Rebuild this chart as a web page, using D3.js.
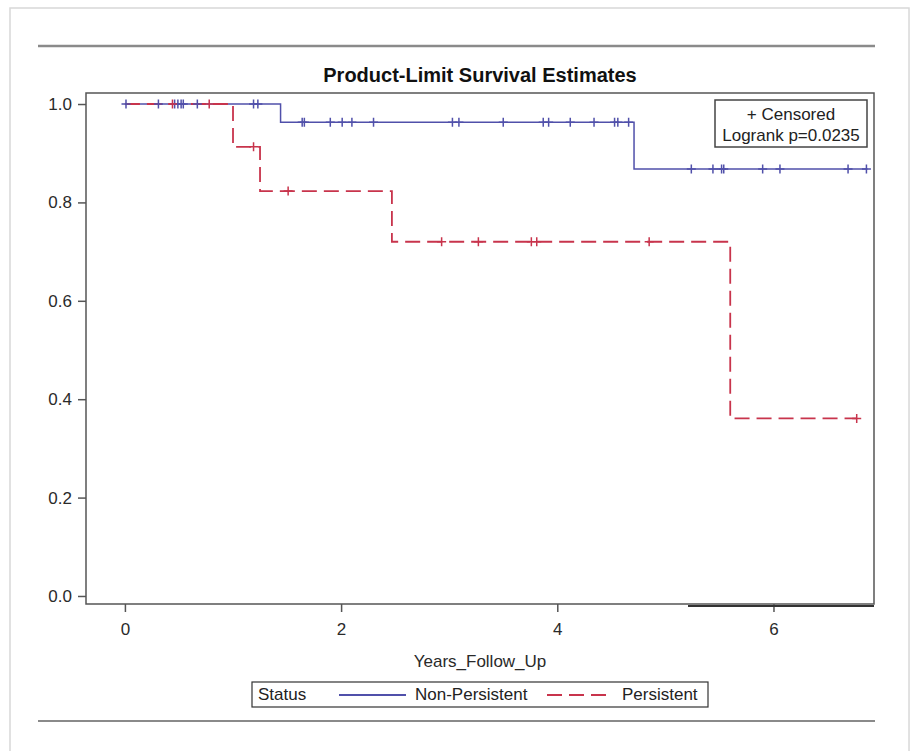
<!DOCTYPE html>
<html>
<head>
<meta charset="utf-8">
<script src="https://cdn.jsdelivr.net/npm/d3@7"></script>
<style>
  body { margin: 0; background: #fff; }
  svg { font-family: "Liberation Sans", Arial, sans-serif; }
</style>
</head>
<body>
<script>
// Kaplan-Meier step values
var groups = ["Non-Persistent", "Persistent"];

var npTimes = [0, 1.44, 4.71];
var npSurv = [1.0, 0.963, 0.868];
var npEnd = 6.87;
var npCensored = [0.01, 0.31, 0.46, 0.49, 0.52, 0.54, 0.67, 1.19, 1.23,
    1.64, 1.66, 1.90, 2.01, 2.10, 2.30, 3.03, 3.09, 3.50, 3.87, 3.92, 4.12, 4.34, 4.53, 4.56, 4.66,
    5.24, 5.44, 5.52, 5.54, 5.90, 6.06, 6.69, 6.86];

var pTimes = [0, 1.00, 1.25, 2.47, 5.60];
var pSurv = [1.0, 0.913, 0.823, 0.72, 0.361];
var pEnd = 6.77;
var pCensored = [0.44, 0.78, 1.19, 1.51, 2.93, 3.27, 3.76, 3.81, 4.85, 6.77];

var xTicks = [0, 2, 4, 6];
var yTicks = [0, 0.2, 0.4, 0.6, 0.8, 1.0];

var blue = "#5050aa", red = "#c8344c";

var width = 913, height = 751;

var svg = d3.select("body").append("svg")
    .attr("width", width)
    .attr("height", height);

// page decoration
svg.append("rect")
    .attr("x", 10).attr("y", 8)
    .attr("width", 899).attr("height", 770)
    .attr("fill", "none").attr("stroke", "#d8d8d8").attr("stroke-width", 1.5);
svg.append("line")
    .attr("x1", 38).attr("x2", 875).attr("y1", 46).attr("y2", 46)
    .attr("stroke", "#8a8a8a").attr("stroke-width", 2.5);
svg.append("line")
    .attr("x1", 38).attr("x2", 875).attr("y1", 721).attr("y2", 721)
    .attr("stroke", "#8a8a8a").attr("stroke-width", 2);

var x = d3.scaleLinear().domain([-0.36, 6.93]).range([86, 874]);
var y = d3.scaleLinear().domain([-0.0163, 1.0224]).range([604, 93]);

svg.append("text")
    .attr("x", 480).attr("y", 82)
    .attr("text-anchor", "middle")
    .attr("font-weight", "bold")
    .attr("font-size", "20px")
    .attr("fill", "#111")
    .text("Product-Limit Survival Estimates");

// axes
var xAxis = svg.append("g")
    .attr("transform", "translate(0,604)")
    .call(d3.axisBottom(x).tickValues(xTicks).tickSize(8).tickSizeOuter(0).tickPadding(11).tickFormat(d3.format("d")));
var yAxis = svg.append("g")
    .attr("transform", "translate(86,0)")
    .call(d3.axisLeft(y).tickValues(yTicks).tickSize(8).tickSizeOuter(0).tickPadding(6).tickFormat(d3.format(".1f")));

[xAxis, yAxis].forEach(function(a){
    a.select(".domain").remove();
    a.selectAll("line").attr("stroke", "#555").attr("stroke-width", 1.5);
    a.selectAll("text").attr("font-size", "17px").attr("fill", "#2a2a2a")
        .attr("font-family", "Liberation Sans, Arial, sans-serif");
});

// frame
svg.append("rect")
    .attr("x", x.range()[0]).attr("y", y.range()[1])
    .attr("width", x.range()[1] - x.range()[0])
    .attr("height", y.range()[0] - y.range()[1])
    .attr("fill", "none").attr("stroke", "#555").attr("stroke-width", 1.5);
svg.append("line")
    .attr("x1", 688).attr("x2", x.range()[1]).attr("y1", 606).attr("y2", 606)
    .attr("stroke", "#333").attr("stroke-width", 2);

svg.append("text")
    .attr("x", 480).attr("y", 667)
    .attr("text-anchor", "middle")
    .attr("font-size", "17px").attr("fill", "#2a2a2a")
    .text("Years_Follow_Up");

function stepPoints(times, surv, end) {
    var pts = [];
    for (var i = 0; i < times.length; i++) {
        pts.push([times[i], surv[i]]);
    }
    pts.push([end, surv[surv.length - 1]]);
    return pts;
}
function survAt(times, surv, t) {
    var s = surv[0];
    for (var i = 0; i < times.length; i++) {
        if (times[i] <= t) s = surv[i];
    }
    return s;
}

var line = d3.line()
    .x(function(d){ return x(d[0]); })
    .y(function(d){ return y(d[1]); })
    .curve(d3.curveStepAfter);

var plot = svg.append("g");

plot.append("path")
    .datum(stepPoints(npTimes, npSurv, npEnd))
    .attr("d", line)
    .attr("fill", "none").attr("stroke", blue).attr("stroke-width", 1.5);

plot.append("path")
    .datum(stepPoints(pTimes, pSurv, pEnd))
    .attr("d", line)
    .attr("fill", "none").attr("stroke", red).attr("stroke-width", 1.8)
    .attr("stroke-dasharray", "15,7");

function plus(t, s) {
    var cx = x(t), cy = y(s);
    return "M" + (cx - 4.5) + "," + cy + "h9M" + cx + "," + (cy - 4.5) + "v9";
}

plot.selectAll(".cnp").data(npCensored).enter().append("path")
    .attr("class", "cnp")
    .attr("d", function(d){ return plus(d, survAt(npTimes, npSurv, d)); })
    .attr("stroke", blue).attr("stroke-width", 1.5).attr("fill", "none");

plot.selectAll(".cp").data(pCensored).enter().append("path")
    .attr("class", "cp")
    .attr("d", function(d){ return plus(d, survAt(pTimes, pSurv, d)); })
    .attr("stroke", red).attr("stroke-width", 1.5).attr("fill", "none");

// inset legend
var inset = svg.append("g");
inset.append("rect")
    .attr("x", 715).attr("y", 100).attr("width", 152).attr("height", 47)
    .attr("fill", "#fff").attr("stroke", "#444").attr("stroke-width", 1.5);
inset.append("text")
    .attr("x", 791).attr("y", 120).attr("text-anchor", "middle")
    .attr("font-size", "17px").attr("fill", "#222")
    .text("+ Censored");
inset.append("text")
    .attr("x", 791).attr("y", 141).attr("text-anchor", "middle")
    .attr("font-size", "17px").attr("fill", "#222")
    .text("Logrank p=0.0235");

// bottom legend
var leg = svg.append("g");
leg.append("rect")
    .attr("x", 252).attr("y", 682).attr("width", 456).attr("height", 25)
    .attr("fill", "#fff").attr("stroke", "#333").attr("stroke-width", 1.2);
leg.append("text")
    .attr("x", 258).attr("y", 700)
    .attr("font-size", "17px").attr("fill", "#222")
    .text("Status");

var legItems = [
    { name: groups[0], color: blue, dash: null, x1: 339, x2: 406, tx: 415 },
    { name: groups[1], color: red, dash: "15,7", x1: 547, x2: 608, tx: 622 }
];
legItems.forEach(function(it){
    leg.append("line")
        .attr("x1", it.x1).attr("x2", it.x2).attr("y1", 695).attr("y2", 695)
        .attr("stroke", it.color).attr("stroke-width", 1.8)
        .attr("stroke-dasharray", it.dash);
    leg.append("text")
        .attr("x", it.tx).attr("y", 700)
        .attr("font-size", "17px").attr("fill", "#222")
        .text(it.name);
});
</script>
</body>
</html>
